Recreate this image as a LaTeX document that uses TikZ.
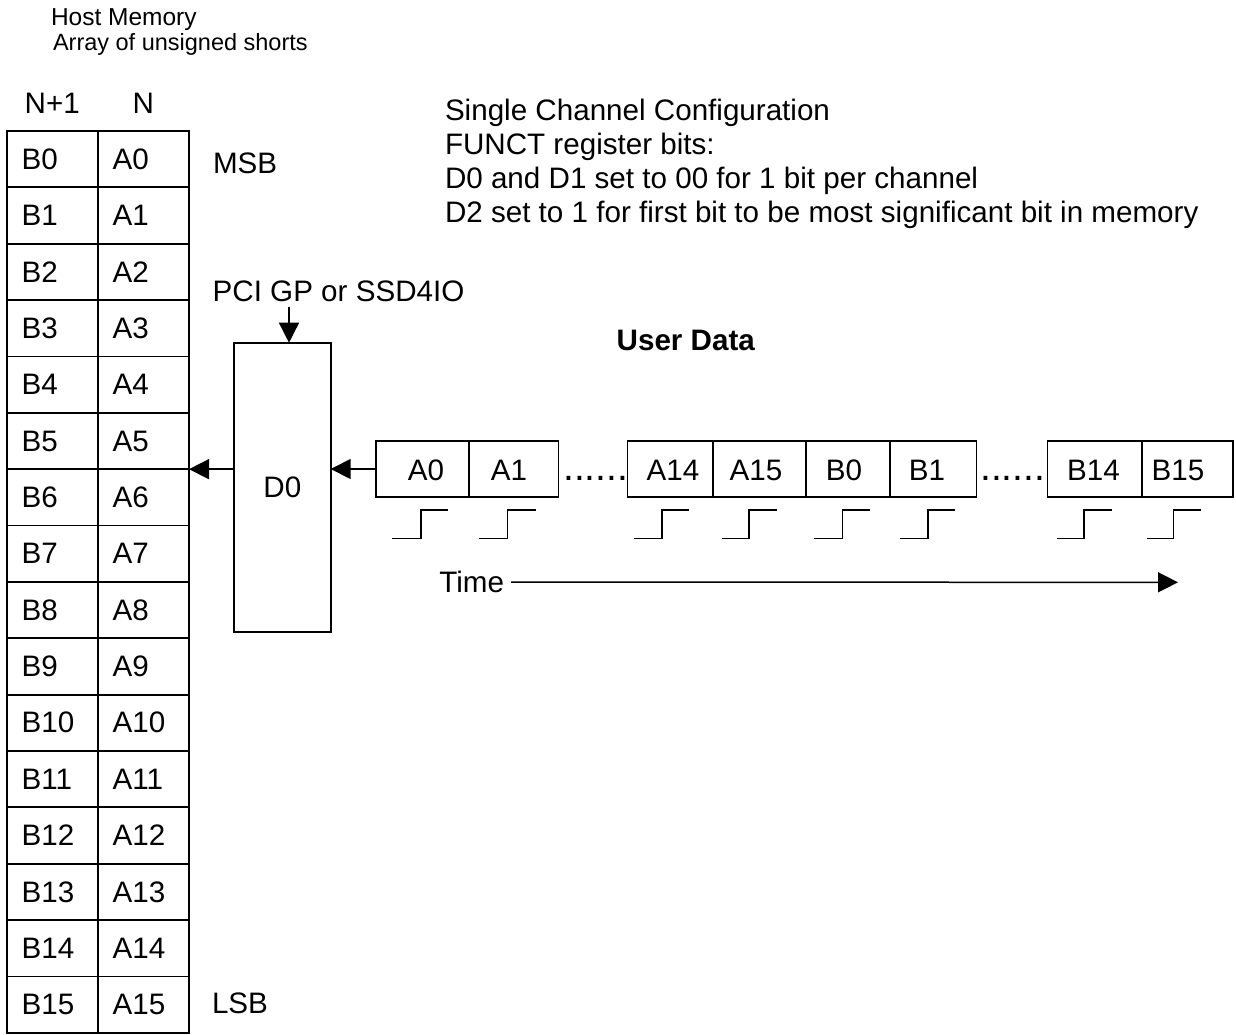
\documentclass[tikz,border=0pt]{standalone}
\usepackage{fontspec}
\setmainfont{Liberation Sans}
\usetikzlibrary{arrows.meta,calc}
\newcommand\mainfs{\fontsize{29.6}{34}\selectfont}
\begin{document}
\begin{tikzpicture}[x=1pt,y=-1pt,
  every node/.style={inner sep=0pt, outer sep=0pt, font=\mainfs},
  bcell/.style={draw, line width=1.8pt, minimum height=56.36pt, inner ysep=0pt, inner xsep=15pt, text width=61pt, align=left},
  acell/.style={draw, line width=1.8pt, minimum height=56.36pt, inner ysep=0pt, inner xsep=15pt, text width=61.3pt, align=left},
  regbox/.style={draw, line width=1.8pt},
  dbox/.style={draw, line width=1.6pt, minimum height=56pt},
  lbl/.style={anchor=base west},
  arr/.style={-{Triangle[length=20pt,width=20pt]}, line width=1.5pt},
  sig/.style={line width=1.6pt},
  dots/.style={anchor=base west, font=\fontsize{39}{40}\selectfont}
]
\useasboundingbox (0,0) rectangle (1236,1034);

% titles
\node[lbl, font=\fontsize{24.5}{28}\selectfont] (host) at (51,25) {Host Memory};
\node[lbl, font=\fontsize{23.5}{26}\selectfont] (arr) at (53,50) {Array of unsigned shorts};

% column headers
\node[anchor=base] (hn1) at (52.2,113.3) {N+1};
\node[anchor=base] (hn) at (143.35,113.3) {N};

% memory table
\foreach \i in {0,...,15}{
  \node[bcell] (b\i) at (52.2,{159.18+56.36*\i}) {B\i};
  \node[acell] (a\i) at (143.35,{159.18+56.36*\i}) {A\i};
}
\node[lbl] (msb) at (213,173.3) {MSB};
\node[lbl] (lsb) at (212,1013.3) {LSB};

% configuration text
\node[lbl] (c1) at (445,120) {Single Channel Configuration};
\node[lbl] (c2) at (445,154.3) {FUNCT register bits:};
\node[lbl] (c3) at (445,188.6) {D0 and D1 set to 00 for 1 bit per channel};
\node[lbl] (c4) at (445,222.9) {D2 set to 1 for first bit to be most significant bit in memory};

% register
\node[lbl] (pci) at (212.7,301.7) {PCI GP or SSD4IO};
\node[regbox, minimum width=96.7pt, minimum height=289pt] (d0) at (282.35,487.2) {D0};
\draw[arr] ([shift={(6.65,-36)}]d0.north) -- ([xshift=6.65pt]d0.north);
\draw[arr] (d0.west |- a5.south east) -- (a5.south east);

% user data
\node[anchor=base, font=\bfseries\mainfs] (ud) at (685.8,350) {User Data};

\node[dbox, minimum width=93pt] (da0) at (422.5,469) {};
\node[dbox, minimum width=89.3pt] (da1) at (513.65,469) {};
\node[dbox, minimum width=85.7pt] (da14) at (670.15,469) {};
\node[dbox, minimum width=92.7pt] (da15) at (759.35,469) {};
\node[dbox, minimum width=84.3pt] (db0) at (847.85,469) {};
\node[dbox, minimum width=86.4pt] (db1) at (933.2,469) {};
\node[dbox, minimum width=94.4pt] (db14) at (1094.8,469) {};
\node[dbox, minimum width=91pt] (db15) at (1187.5,469) {};

\node (tA0) at (426,470) {A0};
\node (tA1) at (509,470) {A1};
\node (tA14) at (673,470) {A14};
\node (tA15) at (756,470) {A15};
\node (tB0) at (844,470) {B0};
\node (tB1) at (927,470) {B1};
\node (tB14) at (1093.5,470) {B14};
\node (tB15) at (1178,470) {B15};

\node[dots] (dots1) at (563.2,480.3) {......};
\node[dots] (dots2) at (980.3,480.3) {......};

\draw[arr] (da0.west) -- (d0.east |- da0.west);

% clock edges
\foreach \p/\q/\r in {392.3/420.7/448.3, 479.3/507.3/535.7, 633.8/661.8/689.4, 722/748.9/776.9, 814.4/842.4/869.5, 899.7/927.7/954.9, 1057/1084.2/1112.2, 1146.7/1173.4/1201.4}
  \draw[sig] (\p,538.3) -- (\q,538.3) -- (\q,510) -- (\r,510);

% time axis
\node[lbl] (time) at (439.4,592.7) {Time};
\coordinate (tend) at (1178,582.3);
\draw[arr] ([xshift=7pt]time.east) -- (tend);
\end{tikzpicture}
\end{document}
